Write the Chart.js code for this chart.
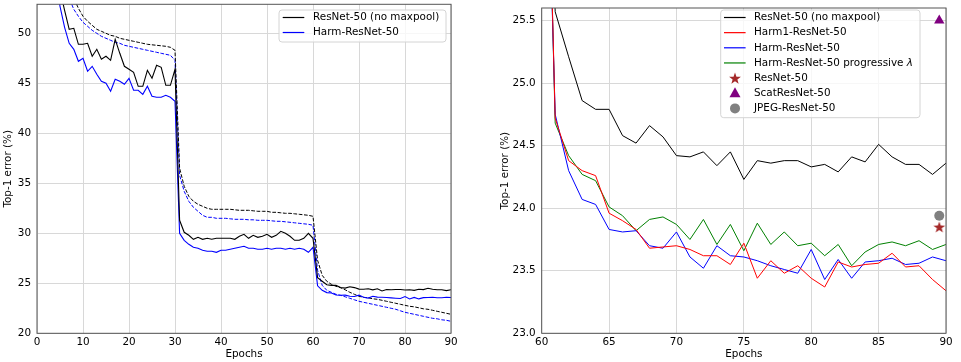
<!DOCTYPE html>
<html>
<head>
<meta charset="utf-8">
<script src="https://cdn.jsdelivr.net/npm/chart.js@4.4.0/dist/chart.umd.min.js"></script>
<style>
  body { margin: 0; background: #fff; }
  #wrap { position: relative; width: 961px; height: 362px; }
  canvas { position: absolute; top: 0; }
</style>
</head>
<body>
<div id="wrap">
  <canvas id="left" width="480" height="362" style="left:0"></canvas>
  <canvas id="right" width="464" height="362" style="left:497px"></canvas>
</div>
<script>
// epochs 0..90 (left) and 60..90 (right zoom)
const epochs = [0,1,2,3,4,5,6,7,8,9,10,11,12,13,14,15,16,17,18,19,20,21,22,23,24,25,26,27,28,29,30,
  31,32,33,34,35,36,37,38,39,40,41,42,43,44,45,46,47,48,49,50,51,52,53,54,55,56,57,58,59,60,
  61,62,63,64,65,66,67,68,69,70,71,72,73,74,75,76,77,78,79,80,81,82,83,84,85,86,87,88,89,90];
const zoomEpochs = epochs.slice(60);

// validation error, ResNet-50 (no maxpool)
const resnetVal = [86,75,67,61,57,54.3,52.3,50.4,50.5,48.9,48.9,49.0,47.7,48.4,47.4,47.7,47.3,49.4,48.0,46.7,
  46.4,46.1,44.7,44.7,46.3,45.5,46.8,46.6,44.8,44.8,46.4,
  31.3,30.1,29.8,29.4,29.6,29.4,29.5,29.4,29.5,29.5,29.5,29.5,29.4,29.7,29.9,29.5,29.8,29.6,29.7,29.9,
  29.6,29.8,30.2,30.0,29.7,29.3,29.3,29.5,30.0,29.5,
  25.57,25.21,24.86,24.79,24.79,24.58,24.52,24.66,24.57,24.42,24.41,24.45,24.34,24.45,24.23,
  24.38,24.36,24.38,24.38,24.33,24.35,24.29,24.41,24.37,24.51,24.41,24.35,24.35,24.27,24.36];
// validation error, Harm-ResNet-50
const harmVal = [85,73,65,59.5,55.5,52.7,50.6,49.0,48.4,47.2,47.5,46.2,46.7,45.9,45.2,45.0,44.2,45.4,45.2,44.9,
  45.5,44.3,44.3,43.9,44.7,43.7,43.6,43.6,43.8,43.6,43.2,
  30.0,29.3,28.9,28.6,28.5,28.3,28.2,28.2,28.1,28.3,28.3,28.4,28.5,28.6,28.7,28.5,28.5,28.4,28.4,28.5,
  28.4,28.5,28.5,28.4,28.5,28.4,28.5,28.4,28.1,28.6,
  24.75,24.30,24.07,24.03,23.83,23.81,23.82,23.70,23.68,23.81,23.61,23.52,23.70,23.62,23.61,
  23.58,23.54,23.51,23.48,23.67,23.43,23.59,23.44,23.57,23.58,23.60,23.55,23.56,23.61,23.58];
// training error (dashed)
const resnetTrain = [88,78,70,64,60,57.5,55.8,54.5,53.5,52.5,51.7,51.2,50.8,50.4,50.2,50.0,49.8,49.7,49.5,49.4,
  49.3,49.2,49.1,49.0,48.9,48.85,48.8,48.75,48.7,48.6,48.3,
  36.5,34.7,33.7,33.2,32.9,32.7,32.5,32.4,32.4,32.4,32.4,32.4,32.35,32.3,32.3,32.3,32.25,32.2,32.2,32.2,
  32.1,32.1,32.05,32.0,32.0,31.95,31.9,31.85,31.8,31.7,
  27.3,25.8,25.2,24.9,24.7,24.55,24.35,24.1,23.9,23.7,23.6,23.55,23.45,23.4,23.3,
  23.2,23.1,23.0,22.9,22.8,22.7,22.65,22.55,22.45,22.4,22.3,22.2,22.1,22.0,21.9];
const harmTrain = [87,77,68.5,62.5,58.5,56,54.5,53.5,52.4,51.7,51.1,50.7,50.3,50.0,49.7,49.5,49.3,49.1,49.0,48.8,
  48.7,48.6,48.5,48.4,48.3,48.2,48.1,48.0,47.9,47.8,47.3,
  35.8,34.2,33.2,32.6,32.2,31.8,31.6,31.6,31.5,31.5,31.5,31.45,31.4,31.4,31.4,31.35,31.35,31.3,31.3,31.3,
  31.25,31.2,31.2,31.15,31.1,31.05,31.0,30.95,30.9,30.8,
  26.3,24.8,24.3,24.1,23.9,23.8,23.65,23.5,23.35,23.2,23.1,23.0,22.9,22.8,22.7,
  22.6,22.5,22.4,22.25,22.1,22.0,21.9,21.8,21.7,21.6,21.5,21.45,21.35,21.3,21.2];

// right panel only (epochs 60..90)
const harm1Val = [29.0,24.72,24.38,24.30,24.26,23.96,23.90,23.83,23.68,23.69,23.70,23.67,23.62,23.62,23.55,23.72,
  23.44,23.58,23.48,23.54,23.44,23.37,23.57,23.53,23.55,23.56,23.64,23.53,23.54,23.43,23.34];
const harmProgVal = [29.0,24.68,24.42,24.27,24.22,24.01,23.94,23.82,23.91,23.93,23.87,23.75,23.91,23.71,23.87,23.66,
  23.88,23.71,23.81,23.70,23.72,23.62,23.71,23.54,23.65,23.71,23.73,23.70,23.74,23.67,23.71];

// single final results
const finalEpoch = 89.5;
const resnetFinal = 23.85;
const scatFinal = 25.5;
const jpegFinal = 23.94;

const FONT = '10.4px "DejaVu Sans"';
const GRID = '#d8d8d8';

const pts = (xs, ys) => xs.map((x, i) => ({ x: x, y: ys[i] }));

function starPath(ctx, cx, cy, R, r) {
  ctx.beginPath();
  for (let i = 0; i < 10; i++) {
    const a = -Math.PI / 2 + i * Math.PI / 5;
    const rad = i % 2 ? r : R;
    ctx.lineTo(cx + rad * Math.cos(a), cy + rad * Math.sin(a));
  }
  ctx.closePath();
}

const starImg = document.createElement('canvas');
starImg.width = 14; starImg.height = 14;
(() => {
  const c = starImg.getContext('2d');
  starPath(c, 7, 7.6, 6.2, 2.5);
  c.fillStyle = '#a52a2a';
  c.fill();
})();

function drawMarker(ctx, kind, x, y, color) {
  ctx.fillStyle = color;
  if (kind === 'star') {
    starPath(ctx, x, y + 0.6, 6.2, 2.5);
    ctx.fill();
  } else if (kind === 'triangle') {
    ctx.beginPath();
    ctx.moveTo(x, y - 6);
    ctx.lineTo(x + 5.5, y + 4);
    ctx.lineTo(x - 5.5, y + 4);
    ctx.closePath();
    ctx.fill();
  } else {
    ctx.beginPath();
    ctx.arc(x, y, 5, 0, Math.PI * 2);
    ctx.fill();
  }
}

const framePlugin = {
  id: 'frame',
  afterDatasetsDraw(chart) {
    const { ctx, chartArea: a } = chart;
    ctx.save();
    ctx.strokeStyle = '#555';
    ctx.lineWidth = 1;
    ctx.strokeRect(a.left, a.top, a.right - a.left, a.bottom - a.top);
    ctx.restore();
  }
};

function legendPlugin(box, rows) {
  return {
    id: 'boxLegend',
    afterDraw(chart) {
      const ctx = chart.ctx;
      ctx.save();
      ctx.beginPath();
      ctx.roundRect(box.x, box.y, box.w, box.h, 3);
      ctx.fillStyle = 'rgba(255,255,255,0.8)';
      ctx.fill();
      ctx.strokeStyle = '#d4d4d4';
      ctx.lineWidth = 1;
      ctx.stroke();
      rows.forEach((r, i) => {
        const y = box.rowY + i * box.rowH;
        if (r.marker) {
          drawMarker(ctx, r.marker, box.lineX + 11, y, r.color);
        } else {
          ctx.beginPath();
          ctx.moveTo(box.lineX, y);
          ctx.lineTo(box.lineX + 21.6, y);
          ctx.strokeStyle = r.color;
          ctx.lineWidth = 1.2;
          ctx.stroke();
        }
        ctx.font = FONT;
        ctx.fillStyle = '#000';
        ctx.textBaseline = 'middle';
        ctx.fillText(r.text, box.textX, y);
        if (r.italic) {
          const w = ctx.measureText(r.text).width;
          ctx.font = 'italic ' + FONT;
          ctx.fillText(r.italic, box.textX + w, y);
        }
      });
      ctx.restore();
    }
  };
}

function axes(xmin, xmax, xstep, ymin, ymax, ystep, yWidth, yDigits) {
  return {
    x: {
      type: 'linear', min: xmin, max: xmax,
      ticks: { stepSize: xstep, font: { family: 'DejaVu Sans', size: 10.4 }, color: '#000', padding: 3, maxRotation: 0 },
      grid: { color: GRID, drawTicks: false },
      border: { display: false },
      title: { display: true, text: 'Epochs', color: '#000', font: { family: 'DejaVu Sans', size: 10.4 }, padding: { top: 0, bottom: 1.8 } },
      afterFit: s => { s.height = 28.7; s.paddingLeft = 0; s.paddingRight = 0; }
    },
    y: {
      type: 'linear', min: ymin, max: ymax,
      ticks: {
        stepSize: ystep, font: { family: 'DejaVu Sans', size: 10.4 }, color: '#000', padding: 6,
        callback: v => v.toFixed(yDigits)
      },
      afterBuildTicks: s => { s.ticks = s.ticks.filter(t => Math.abs((t.value - ymin) / ystep - Math.round((t.value - ymin) / ystep)) < 1e-6); },
      grid: { color: GRID, drawTicks: false },
      border: { display: false },
      title: { display: true, text: 'Top-1 error (%)', color: '#000', font: { family: 'DejaVu Sans', size: 10.4 }, padding: { top: 1.8, bottom: 0 } },
      afterFit: s => { s.width = yWidth; s.paddingTop = 0; s.paddingBottom = 0; }
    }
  };
}

const common = {
  responsive: false,
  animation: false,
  devicePixelRatio: 1,
  plugins: { legend: { display: false }, tooltip: { enabled: false } },
  elements: { point: { radius: 0 }, line: { tension: 0, borderWidth: 1 } }
};

new Chart(document.getElementById('left'), {
  type: 'line',
  data: {
    datasets: [
      { label: 'ResNet-50 (no maxpool)', data: pts(epochs, resnetVal), borderColor: '#000', borderWidth: 1.1 },
      { label: 'Harm-ResNet-50', data: pts(epochs, harmVal), borderColor: '#0000ff', borderWidth: 1.1 },
      { label: 'ResNet-50 train', data: pts(epochs, resnetTrain), borderColor: '#000', borderDash: [3.7, 1.6] },
      { label: 'Harm-ResNet-50 train', data: pts(epochs, harmTrain), borderColor: '#0000ff', borderDash: [3.7, 1.6] }
    ]
  },
  options: Object.assign({}, common, {
    layout: { padding: { top: 4.3, right: 29, left: 0, bottom: 0 } },
    scales: axes(0, 90, 10, 20, 52.9, 5, 37, 0)
  }),
  plugins: [framePlugin, legendPlugin(
    { x: 279, y: 10, w: 167, h: 32, rowY: 17.5, rowH: 15, lineX: 282.7, textX: 313 },
    [
      { text: 'ResNet-50 (no maxpool)', color: '#000' },
      { text: 'Harm-ResNet-50', color: '#0000ff' }
    ])]
});

new Chart(document.getElementById('right'), {
  type: 'line',
  data: {
    datasets: [
      { label: 'ResNet-50 (no maxpool)', data: pts(zoomEpochs, resnetVal.slice(60)), borderColor: '#000' },
      { label: 'Harm1-ResNet-50', data: pts(zoomEpochs, harm1Val), borderColor: '#ff0000' },
      { label: 'Harm-ResNet-50', data: pts(zoomEpochs, harmVal.slice(60)), borderColor: '#0000ff' },
      { label: 'Harm-ResNet-50 progressive λ', data: pts(zoomEpochs, harmProgVal), borderColor: '#008000' },
      { type: 'scatter', label: 'ResNet-50', data: [{ x: finalEpoch, y: resnetFinal }], pointStyle: starImg, pointRadius: 7 },
      { type: 'scatter', label: 'ScatResNet-50', data: [{ x: finalEpoch, y: scatFinal }], pointStyle: 'triangle', pointRadius: 6, backgroundColor: '#800080', borderColor: '#800080', borderWidth: 0 },
      { type: 'scatter', label: 'JPEG-ResNet-50', data: [{ x: finalEpoch, y: jpegFinal }], pointStyle: 'circle', pointRadius: 5, backgroundColor: '#808080', borderColor: '#808080', borderWidth: 0 }
    ]
  },
  options: Object.assign({}, common, {
    layout: { padding: { top: 4.3, right: 15, left: 0, bottom: 0 } },
    scales: axes(60, 90, 5, 23, 25.6, 0.5, 44.7, 1)
  }),
  plugins: [framePlugin, legendPlugin(
    { x: 223.7, y: 10, w: 199.3, h: 107.7, rowY: 17.5, rowH: 15.15, lineX: 227, textX: 257 },
    [
      { text: 'ResNet-50 (no maxpool)', color: '#000' },
      { text: 'Harm1-ResNet-50', color: '#ff0000' },
      { text: 'Harm-ResNet-50', color: '#0000ff' },
      { text: 'Harm-ResNet-50 progressive ', italic: 'λ', color: '#008000' },
      { text: 'ResNet-50', marker: 'star', color: '#a52a2a' },
      { text: 'ScatResNet-50', marker: 'triangle', color: '#800080' },
      { text: 'JPEG-ResNet-50', marker: 'circle', color: '#808080' }
    ])]
});
</script>
</body>
</html>
